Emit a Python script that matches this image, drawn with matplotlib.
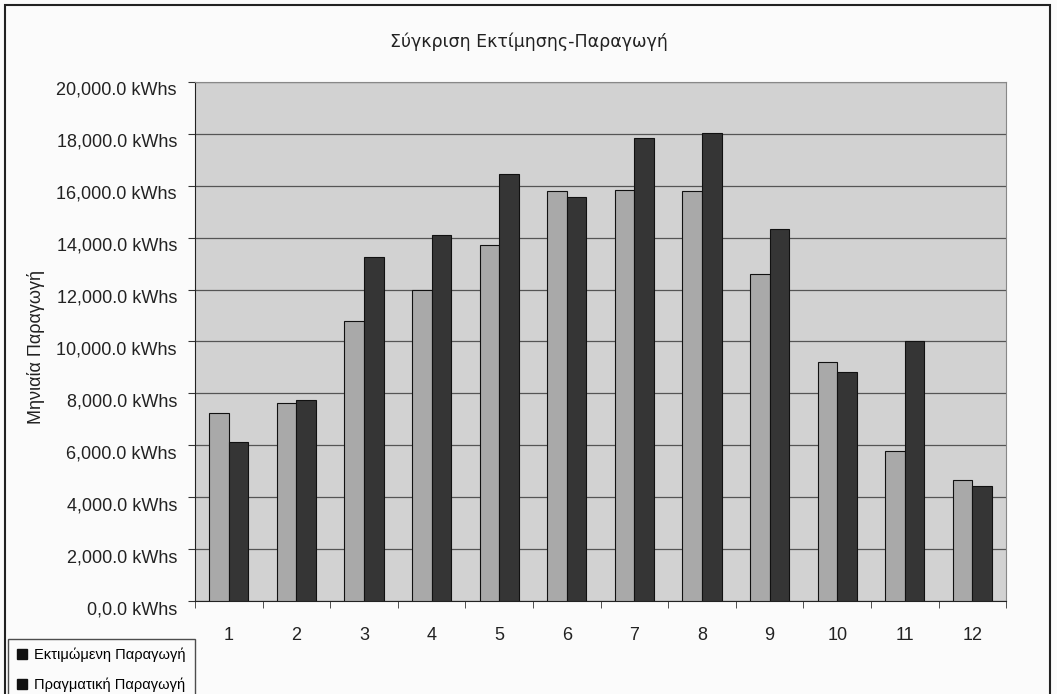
import matplotlib.pyplot as plt
import numpy as np
from matplotlib.patches import Rectangle

months = ["1", "2", "3", "4", "5", "6", "7", "8", "9", "10", "11", "12"]
estimated = [7250, 7620, 10800, 12000, 13700, 15780, 15850, 15780, 12600, 9200, 5780, 4680]
actual = [6130, 7750, 13250, 14100, 16470, 15580, 17850, 18050, 14330, 8830, 10000, 4420]
y_ticks = [0, 2000, 4000, 6000, 8000, 10000, 12000, 14000, 16000, 18000, 20000]
y_tick_labels = ["0,0.0 kWhs", "2,000.0 kWhs", "4,000.0 kWhs", "6,000.0 kWhs",
                 "8,000.0 kWhs", "10,000.0 kWhs", "12,000.0 kWhs", "14,000.0 kWhs",
                 "16,000.0 kWhs", "18,000.0 kWhs", "20,000.0 kWhs"]
series_names = ["Εκτιμώμενη Παραγωγή", "Πραγματική Παραγωγή"]

plt.rcParams['font.family'] = ['Liberation Sans', 'DejaVu Sans']

fig = plt.figure(figsize=(10.57, 6.94), dpi=100)
fig.patch.set_facecolor('#fbfbfb')
ax = fig.add_axes([0.1845, 0.134, 0.7675, 0.748])
ax.set_facecolor('#d2d2d2')

x = np.arange(len(months))
w = 0.29
ax.bar(x - w / 2, estimated, w, color='#a9a9a9', edgecolor='#111111', linewidth=0.8, zorder=3)
ax.bar(x + w / 2, actual, w, color='#353535', edgecolor='#111111', linewidth=0.8, zorder=3)

ax.set_xlim(-0.5, len(months) - 0.5)
ax.set_ylim(0, 20000)
ax.set_yticks(y_ticks)
# labels hang just under their gridlines
ax.set_yticklabels(y_tick_labels, fontsize=13, color='#222222', va='top')
ax.yaxis.grid(True, color='#555555', linewidth=0.9, zorder=0)

# month labels centred, tick marks on category boundaries
ax.set_xticks(x)
ax.set_xticklabels(months, fontsize=13, color='#222222')
ax.tick_params(axis='x', length=0, pad=19)
ax.set_xticks(np.arange(len(months) + 1) - 0.5, minor=True)
ax.tick_params(axis='x', which='minor', length=5, direction='out', color='#333333')
ax.tick_params(axis='y', length=5, direction='out', color='#333333', pad=8)

for side in ['top', 'right']:
    ax.spines[side].set_color('#888888')
for side in ['left', 'bottom']:
    ax.spines[side].set_color('#222222')

ax.set_ylabel("Μηνιαία Παραγωγή", fontsize=13, color='#222222')
ax.yaxis.set_label_coords(-0.185, 0.49)
fig.text(0.5, 0.94, "Σύγκριση Εκτίμησης-Παραγωγή", ha='center', va='center',
         fontsize=12.5, family=['DejaVu Sans'], color='#222222')

# outer chart frame
fig.patches.append(Rectangle((5 / 1057, -0.05), 1045 / 1057, 1.05 - 5 / 694,
                             transform=fig.transFigure, fill=False,
                             edgecolor='#222222', linewidth=1.5))

handles = [Rectangle((0, 0), 1, 1, color='#111111') for _ in series_names]
leg = fig.legend(handles, series_names, loc='upper left',
                 bbox_to_anchor=(8 / 1057, 1 - 639 / 694), fontsize=10.5,
                 frameon=True, fancybox=False, handlelength=0.7, handleheight=0.7,
                 handletextpad=0.5, labelspacing=1.05, borderpad=0.6,
                 borderaxespad=0)
leg.get_frame().set_edgecolor('#222222')
leg.get_frame().set_linewidth(1.0)
leg.get_frame().set_facecolor('#fbfbfb')

fig.savefig("out.png", dpi=100, facecolor=fig.get_facecolor())
